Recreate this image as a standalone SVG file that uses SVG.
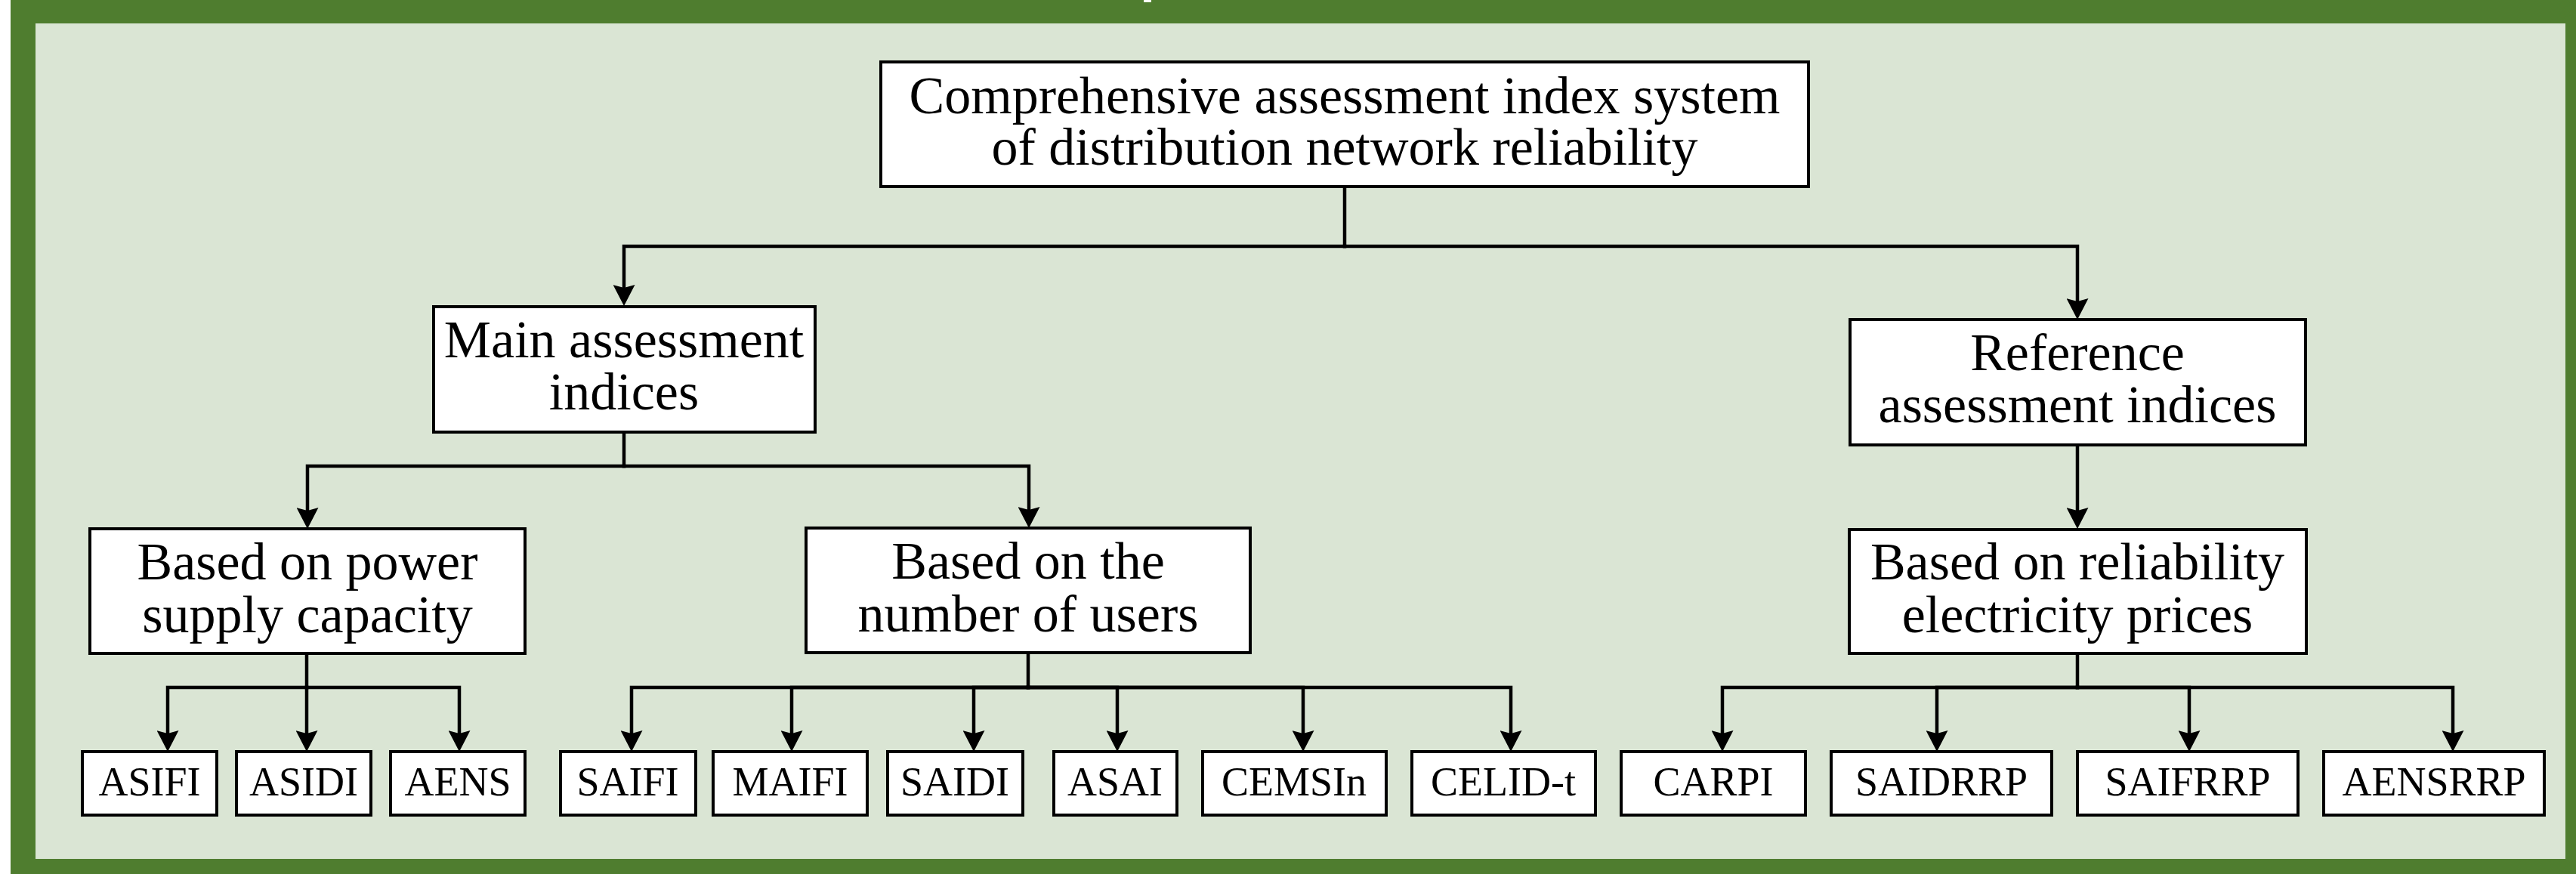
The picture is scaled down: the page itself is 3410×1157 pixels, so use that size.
<svg xmlns="http://www.w3.org/2000/svg" width="3410" height="1157" viewBox="0 0 3410 1157">
  <defs>
    <style>
      .frame { fill: #4F7D2F; }
      .panel { fill: #DAE5D4; }
      .box { fill: #FFFFFF; stroke: #000000; stroke-width: 4; }
      .lbl { font-family: "Liberation Serif", "Times New Roman", serif; font-size: 70px; fill: #000000; text-anchor: middle; }
      .leaf { font-family: "Liberation Serif", "Times New Roman", serif; font-size: 54px; fill: #000000; text-anchor: middle; }
      .wire { fill: none; stroke: #000000; stroke-width: 4.5; stroke-linecap: square; stroke-linejoin: miter; }
      .arrow { marker-end: url(#head); }
    </style>
    <marker id="head" viewBox="0 0 28 29" refX="8" refY="14.5" markerWidth="28" markerHeight="29" markerUnits="userSpaceOnUse" orient="auto">
      <path d="M0,0 L28,14.5 L0,29 L4,14.5 Z" fill="#000000"/>
    </marker>
  </defs>

  <!-- background and frame -->
  <rect x="0" y="0" width="3410" height="1157" fill="#FFFFFF"/>
  <rect class="frame" x="14" y="0" width="3396" height="1157"/>
  <rect class="panel" x="47" y="31" width="3349" height="1106"/>
  <rect x="1514" y="0" width="10" height="3" fill="#FFFFFF"/>

  <!-- connectors -->
  <g id="connectors">
    <!-- level 1 -->
    <path class="wire" d="M1780,249 V326"/>
    <path class="wire arrow" d="M1780,326 H826 V385"/>
    <path class="wire arrow" d="M1780,326 H2750 V403"/>
    <!-- main indices -->
    <path class="wire" d="M826,574 V617"/>
    <path class="wire arrow" d="M826,617 H407 V680"/>
    <path class="wire arrow" d="M826,617 H1362 V679"/>
    <!-- reference indices -->
    <path class="wire arrow" d="M2750,591 V680"/>
    <!-- power supply capacity -->
    <path class="wire" d="M406,867 V910"/>
    <path class="wire arrow" d="M406,910 H222 V975"/>
    <path class="wire arrow" d="M406,910 V975"/>
    <path class="wire arrow" d="M406,910 H608 V975"/>
    <!-- number of users -->
    <path class="wire" d="M1361,866 V910"/>
    <path class="wire arrow" d="M1361,910 H836 V975"/>
    <path class="wire arrow" d="M1361,910 H1048 V975"/>
    <path class="wire arrow" d="M1361,910 H1289 V975"/>
    <path class="wire arrow" d="M1361,910 H1479 V975"/>
    <path class="wire arrow" d="M1361,910 H1725 V975"/>
    <path class="wire arrow" d="M1361,910 H2000 V975"/>
    <!-- reliability electricity prices -->
    <path class="wire" d="M2750,867 V910"/>
    <path class="wire arrow" d="M2750,910 H2280 V975"/>
    <path class="wire arrow" d="M2750,910 H2564 V975"/>
    <path class="wire arrow" d="M2750,910 H2898 V975"/>
    <path class="wire arrow" d="M2750,910 H3247 V975"/>
  </g>

  <!-- upper nodes -->
  <g id="root">
    <rect class="box" x="1166" y="82" width="1228" height="165"/>
    <text class="lbl" x="1780" y="150">Comprehensive assessment index system</text>
    <text class="lbl" x="1780" y="218">of distribution network reliability</text>
  </g>
  <g id="main-indices">
    <rect class="box" x="574" y="406" width="505" height="166"/>
    <text class="lbl" x="826" y="473">Main assessment</text>
    <text class="lbl" x="826" y="542">indices</text>
  </g>
  <g id="reference-indices">
    <rect class="box" x="2449" y="423" width="603" height="166"/>
    <text class="lbl" x="2750" y="490">Reference</text>
    <text class="lbl" x="2750" y="559">assessment indices</text>
  </g>
  <g id="power-capacity">
    <rect class="box" x="119" y="700" width="576" height="165"/>
    <text class="lbl" x="407" y="767">Based on power</text>
    <text class="lbl" x="407" y="837">supply capacity</text>
  </g>
  <g id="number-of-users">
    <rect class="box" x="1067" y="699" width="588" height="165"/>
    <text class="lbl" x="1361" y="766">Based on the</text>
    <text class="lbl" x="1361" y="836">number of users</text>
  </g>
  <g id="electricity-prices">
    <rect class="box" x="2448" y="701" width="605" height="164"/>
    <text class="lbl" x="2750" y="767">Based on reliability</text>
    <text class="lbl" x="2750" y="837">electricity prices</text>
  </g>

  <!-- leaf indices -->
  <g id="ASIFI"><rect class="box" x="109" y="995" width="178" height="84"/><text class="leaf" x="198" y="1053">ASIFI</text></g>
  <g id="ASIDI"><rect class="box" x="313" y="995" width="178" height="84"/><text class="leaf" x="402" y="1053">ASIDI</text></g>
  <g id="AENS"><rect class="box" x="517" y="995" width="178" height="84"/><text class="leaf" x="606" y="1053">AENS</text></g>
  <g id="SAIFI"><rect class="box" x="742" y="995" width="179" height="84"/><text class="leaf" x="831" y="1053">SAIFI</text></g>
  <g id="MAIFI"><rect class="box" x="944" y="995" width="204" height="84"/><text class="leaf" x="1046" y="1053">MAIFI</text></g>
  <g id="SAIDI"><rect class="box" x="1175" y="995" width="179" height="84"/><text class="leaf" x="1264" y="1053">SAIDI</text></g>
  <g id="ASAI"><rect class="box" x="1395" y="995" width="163" height="84"/><text class="leaf" x="1476" y="1053">ASAI</text></g>
  <g id="CEMSIn"><rect class="box" x="1592" y="995" width="243" height="84"/><text class="leaf" x="1713" y="1053">CEMSIn</text></g>
  <g id="CELID-t"><rect class="box" x="1869" y="995" width="243" height="84"/><text class="leaf" x="1990" y="1053">CELID-t</text></g>
  <g id="CARPI"><rect class="box" x="2146" y="995" width="244" height="84"/><text class="leaf" x="2268" y="1053">CARPI</text></g>
  <g id="SAIDRRP"><rect class="box" x="2424" y="995" width="292" height="84"/><text class="leaf" x="2570" y="1053">SAIDRRP</text></g>
  <g id="SAIFRRP"><rect class="box" x="2750" y="995" width="292" height="84"/><text class="leaf" x="2896" y="1053">SAIFRRP</text></g>
  <g id="AENSRRP"><rect class="box" x="3076" y="995" width="292" height="84"/><text class="leaf" x="3222" y="1053">AENSRRP</text></g>
</svg>
